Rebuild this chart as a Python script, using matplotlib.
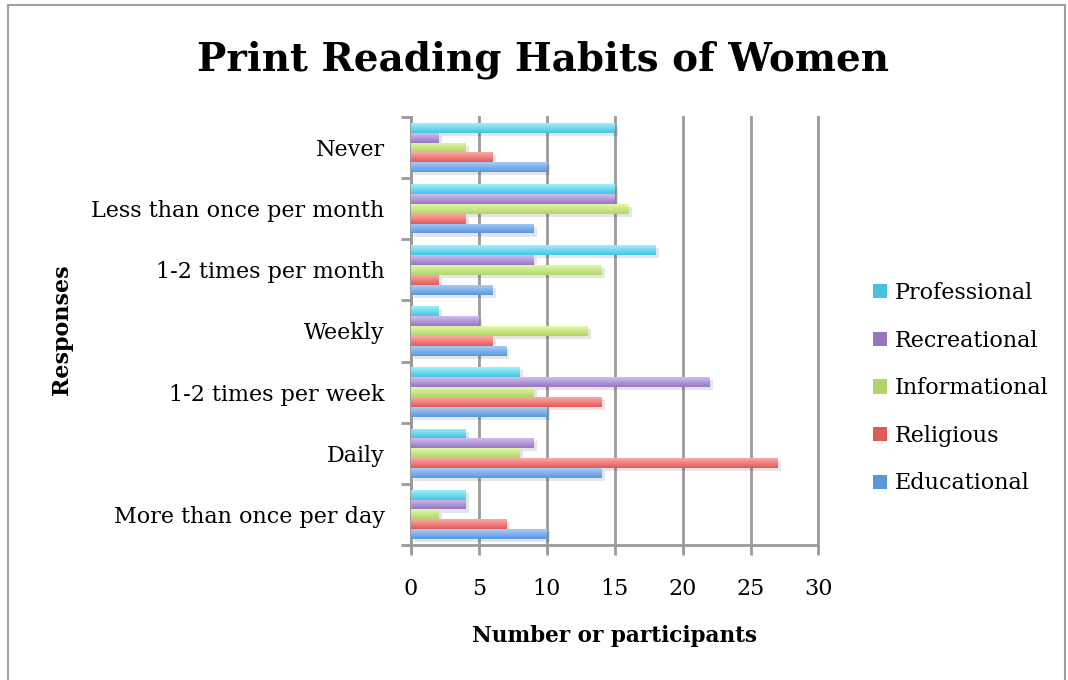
import matplotlib
matplotlib.use("Agg")
import matplotlib.pyplot as plt
import matplotlib.patches as mpatches
import numpy as np

# ── Data ──────────────────────────────────────────────────────────────────────
responses = [
    "Never",
    "Less than once per month",
    "1-2 times per month",
    "Weekly",
    "1-2 times per week",
    "Daily",
    "More than once per day",
]
professional  = [15, 15, 18, 2, 8, 4, 4]
recreational  = [2, 15, 9, 5, 22, 9, 4]
informational = [4, 16, 14, 13, 9, 8, 2]
religious     = [6, 4, 2, 6, 14, 27, 7]
educational   = [10, 9, 6, 7, 10, 14, 10]

series = [
    ("Professional",  professional,  ("#9ff0fb", "#45c4e0")),
    ("Recreational",  recreational,  ("#d2bdf0", "#9676c0")),
    ("Informational", informational, ("#e4f7a8", "#b0d66a")),
    ("Religious",     religious,     ("#fda9a6", "#e05a58")),
    ("Educational",   educational,   ("#a6ccfa", "#5a98dc")),
]

FONT = "DejaVu Serif"
GRID = "#9a9a9a"

fig = plt.figure(figsize=(10.68, 6.8), dpi=100)
ax = fig.add_axes([0.3848, 0.1985, 0.3815, 0.6295])

n_cat = len(responses)
bar_h = 0.162
y_base = np.arange(n_cat)[::-1]          # "Never" on top
offsets = (np.arange(len(series)) - 2) * -bar_h   # Professional top, Educational bottom

grad = np.linspace(0, 1, 64).reshape(-1, 1)
for (name, vals, (light, dark)), off in zip(series, offsets):
    ys = y_base + off
    # soft drop shadow
    ax.barh(ys - 0.05, vals, height=bar_h, left=0.25, color="#000000",
            alpha=0.10, linewidth=0, zorder=2)
    bars = ax.barh(ys, vals, height=bar_h, color=dark, linewidth=0,
                   zorder=3, label=name)
    cmap = matplotlib.colors.LinearSegmentedColormap.from_list(name, [dark, light])
    for b in bars:
        x0, y0 = b.get_x(), b.get_y()
        w, h = b.get_width(), b.get_height()
        im = ax.imshow(grad, cmap=cmap, aspect="auto", origin="lower",
                       extent=(x0, x0 + w, y0, y0 + h), zorder=4)
        im.set_clip_path(b)

ax.set_xlim(0, 30)
ax.set_ylim(-0.5, n_cat - 0.5)
ax.set_xticks(range(0, 31, 5))
ax.set_yticks(y_base)
ax.set_yticklabels(responses, fontsize=16, family=FONT)
ax.tick_params(axis="y", length=0, pad=19)
ax.set_yticks(np.arange(-0.5, n_cat, 1), minor=True)
ax.tick_params(axis="y", which="minor", length=7, width=2, color=GRID)
ax.tick_params(axis="x", length=7, width=2, color=GRID, labelsize=16, pad=17)
for lbl in ax.get_xticklabels():
    lbl.set_family(FONT)

ax.grid(axis="x", color=GRID, linewidth=2, zorder=1)
for gl in ax.get_xgridlines():
    gl.set_clip_on(False)
ax.set_axisbelow(True)
for side in ("top", "right"):
    ax.spines[side].set_visible(False)
for side in ("left", "bottom"):
    ax.spines[side].set_color(GRID)
    ax.spines[side].set_linewidth(2)

ax.set_xlabel("Number or participants", fontsize=15.5, fontweight="bold",
              family=FONT, labelpad=18)
fig.text(0.058, 0.515, "Responses", rotation=90, fontsize=16, fontweight="bold",
         family=FONT, ha="center", va="center")

fig.text(0.508, 0.912, "Print Reading Habits of Women", fontsize=28,
         fontweight="bold", family=FONT, ha="center", va="center")

handles = [mpatches.Patch(facecolor=c[1], label=n) for n, _, c in series]
fig.legend(handles=handles, loc="center left", bbox_to_anchor=(0.799, 0.429),
           frameon=False, prop={"family": FONT, "size": 16},
           handlelength=0.6, handleheight=0.6, handletextpad=0.35,
           labelspacing=1.15)

# outer chart frame
fig.add_artist(mpatches.Rectangle((0.0075, -0.05), 0.99, 1.043,
                                  transform=fig.transFigure, fill=False,
                                  edgecolor="#a0a0a0", linewidth=1.5))

fig.savefig("out.png", dpi=100, facecolor="white")
